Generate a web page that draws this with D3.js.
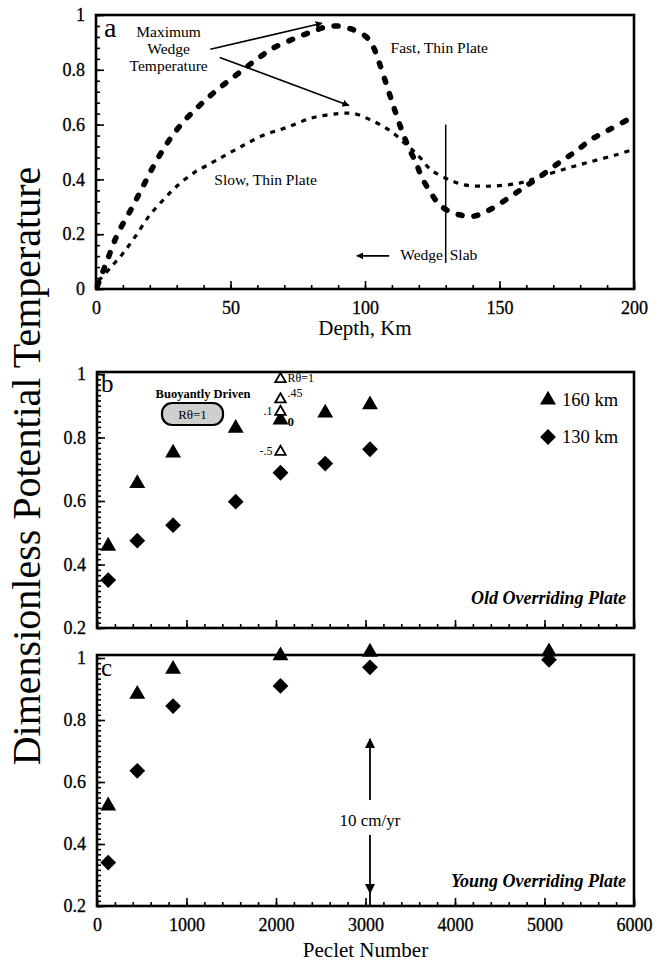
<!DOCTYPE html>
<html>
<head>
<meta charset="utf-8">
<script src="https://cdn.jsdelivr.net/npm/d3@7"></script>
<style>
  body { margin: 0; background: #fff; }
  text { font-family: "Liberation Serif", "Times New Roman", serif; fill: #000; }
</style>
</head>
<body>
<svg id="chart" width="662" height="963"></svg>
<script>
// ---- panel a: temperature profiles vs depth ----
const depthFast = [0.5, 4, 8, 13, 17.5, 22, 27, 32, 38, 43, 48, 54, 60, 66, 74, 80.5, 87.5, 94.5, 100.5, 103, 105.5, 108.5, 111, 114, 116.5, 119, 121, 124.5, 127.5, 131, 135.5, 140, 146.5, 153, 159, 165, 172, 178, 184, 190.5, 199];
const tempFast = [0.01, 0.1, 0.2, 0.29, 0.375, 0.46, 0.54, 0.605, 0.665, 0.71, 0.75, 0.795, 0.84, 0.88, 0.915, 0.94, 0.96, 0.95, 0.92, 0.885, 0.82, 0.73, 0.655, 0.57, 0.51, 0.46, 0.41, 0.35, 0.31, 0.285, 0.27, 0.265, 0.29, 0.33, 0.37, 0.41, 0.46, 0.5, 0.545, 0.58, 0.625];
const depthSlow = [1, 6, 10, 14.5, 20, 25.5, 30, 36.5, 43, 47.5, 54, 62, 71, 80.5, 90, 96, 102.5, 109, 115, 120, 124.5, 131, 137, 145, 153, 159, 165, 175, 184, 193.5, 200];
const tempSlow = [0.03, 0.085, 0.13, 0.19, 0.27, 0.33, 0.375, 0.425, 0.46, 0.485, 0.52, 0.56, 0.59, 0.625, 0.64, 0.64, 0.615, 0.58, 0.53, 0.485, 0.435, 0.4, 0.38, 0.375, 0.38, 0.39, 0.41, 0.44, 0.465, 0.49, 0.51];
const depthTicks = [0, 50, 100, 150, 200];
const tempTicksA = [0, 0.2, 0.4, 0.6, 0.8, 1];

// ---- panel b: old overriding plate ----
const pecletOld = [125, 450, 850, 1550, 2050, 2550, 3050];
const old160 = [0.455, 0.652, 0.748, 0.826, 0.852, 0.874, 0.9];
const old130 = [0.351, 0.475, 0.524, 0.598, 0.689, 0.718, 0.763];
// buoyancy runs at Pe = 2050 (open triangles)
const buoyPe = 2050;
const buoyLabel = ["R\u03B8=1", ".45", ".1", "-.5"];
const buoyTemp = [0.984, 0.92, 0.881, 0.755];
const buoyFilledLabel = "0";

// ---- panel c: young overriding plate ----
const pecletYoung = [125, 450, 850, 2050, 3050, 5050];
const young160 = [0.52, 0.88, 0.961, 1.004, 1.016, 1.017];
const young130 = [0.34, 0.636, 0.845, 0.91, 0.97, 0.994];
const pecletTicks = [0, 1000, 2000, 3000, 4000, 5000, 6000];
const tempTicksBC = [0.2, 0.4, 0.6, 0.8, 1];
const speedPe = 3050;

const svg = d3.select("#chart");
const fmt = d3.format("~g");

const xa = d3.scaleLinear().domain([0, 200]).range([96, 634]);
const ya = d3.scaleLinear().domain([0, 1]).range([289, 15]);
const xp = d3.scaleLinear().domain([0, 6000]).range([97, 634]);
const yb = d3.scaleLinear().domain([0.2, 1]).range([628, 374]);
const yc = d3.scaleLinear().domain([0.2, 1]).range([906, 658]);

// arrowheads
const defs = svg.append("defs");
defs.append("marker")
    .attr("id", "head")
    .attr("viewBox", "0 0 10 10")
    .attr("refX", 9).attr("refY", 5)
    .attr("markerWidth", 7).attr("markerHeight", 7)
    .attr("markerUnits", "userSpaceOnUse")
    .attr("orient", "auto")
    .append("path").attr("d", "M0,0 L10,5 L0,10 z").attr("fill", "#000");
defs.append("marker")
    .attr("id", "headBig")
    .attr("viewBox", "0 0 10 10")
    .attr("refX", 9).attr("refY", 5)
    .attr("markerWidth", 12).attr("markerHeight", 10)
    .attr("markerUnits", "userSpaceOnUse")
    .attr("orient", "auto")
    .append("path").attr("d", "M0,0 L10,5 L0,10 z").attr("fill", "#000");

function axisLeft(scale, majors, minors, x, labels) {
    const gMin = svg.append("g").attr("transform", "translate(" + x + ",0)")
        .call(d3.axisLeft(scale).tickValues(minors).tickSize(-4).tickFormat(""));
    const gMaj = svg.append("g").attr("transform", "translate(" + x + ",0)")
        .call(d3.axisLeft(scale).tickValues(majors).tickSize(-8).tickPadding(11)
            .tickFormat(labels ? fmt : ""));
    [gMin, gMaj].forEach(g => {
        g.select(".domain").remove();
        g.selectAll("line").attr("stroke", "#000").attr("stroke-width", 1.6);
        g.selectAll("text").attr("font-size", 18).attr("font-family", "Liberation Serif")
            .attr("stroke", "#000").attr("stroke-width", 0.3);
    });
}

function axisBottom(scale, majors, minors, y, labels) {
    const gMin = svg.append("g").attr("transform", "translate(0," + y + ")")
        .call(d3.axisBottom(scale).tickValues(minors).tickSize(-4).tickFormat(""));
    const gMaj = svg.append("g").attr("transform", "translate(0," + y + ")")
        .call(d3.axisBottom(scale).tickValues(majors).tickSize(-8).tickPadding(12)
            .tickFormat(labels ? fmt : ""));
    [gMin, gMaj].forEach(g => {
        g.select(".domain").remove();
        g.selectAll("line").attr("stroke", "#000").attr("stroke-width", 1.6);
        g.selectAll("text").attr("font-size", 18).attr("font-family", "Liberation Serif")
            .attr("stroke", "#000").attr("stroke-width", 0.3);
    });
}

function frame(x0, x1, y0, y1) {
    svg.append("rect")
        .attr("x", x0).attr("y", y0)
        .attr("width", x1 - x0).attr("height", y1 - y0)
        .attr("fill", "none").attr("stroke", "#000").attr("stroke-width", 2.6);
}

// ================= panel a =================
axisLeft(ya, tempTicksA, d3.range(0, 1.0001, 0.04), 96, true);
axisBottom(xa, depthTicks, d3.range(0, 200.01, 10), 289, true);
frame(96, 634, 15, 289);

const lineA = d3.line().curve(d3.curveCatmullRom.alpha(0.5));

svg.append("path")
    .attr("d", lineA(depthSlow.map((d, i) => [xa(d), ya(tempSlow[i])])))
    .attr("fill", "none").attr("stroke", "#000")
    .attr("stroke-width", 3.2).attr("stroke-dasharray", "5 6");

svg.append("path")
    .attr("d", lineA(depthFast.map((d, i) => [xa(d), ya(tempFast[i])])))
    .attr("fill", "none").attr("stroke", "#000")
    .attr("stroke-width", 5.5).attr("stroke-linecap", "round")
    .attr("stroke-dasharray", "4 12");

// wedge / slab boundary
svg.append("line")
    .attr("x1", xa(130)).attr("x2", xa(130))
    .attr("y1", ya(0.6)).attr("y2", ya(0.095))
    .attr("stroke", "#000").attr("stroke-width", 1.5);

svg.append("text").attr("x", xa(129)).attr("y", ya(0.105))
    .attr("text-anchor", "end").attr("font-size", 15.5).text("Wedge");
svg.append("text").attr("x", xa(131.5)).attr("y", ya(0.105))
    .attr("font-size", 15.5).text("Slab");
svg.append("line")
    .attr("x1", xa(109)).attr("x2", xa(97))
    .attr("y1", ya(0.121)).attr("y2", ya(0.121))
    .attr("stroke", "#000").attr("stroke-width", 1.8)
    .attr("marker-end", "url(#head)");

// labels
const maxLines = ["Maximum", "Wedge", "Temperature"];
const maxY = [0.92, 0.857, 0.794];
maxLines.forEach((t, i) => {
    svg.append("text").attr("x", xa(27)).attr("y", ya(maxY[i]))
        .attr("text-anchor", "middle").attr("font-size", 15.5).text(t);
});
svg.append("line")
    .attr("x1", xa(42.5)).attr("y1", ya(0.875))
    .attr("x2", xa(84)).attr("y2", ya(0.97))
    .attr("stroke", "#000").attr("stroke-width", 1.6)
    .attr("marker-end", "url(#head)");
svg.append("line")
    .attr("x1", xa(46)).attr("y1", ya(0.845))
    .attr("x2", xa(94)).attr("y2", ya(0.67))
    .attr("stroke", "#000").attr("stroke-width", 1.6)
    .attr("marker-end", "url(#head)");

svg.append("text").attr("x", xa(109.5)).attr("y", ya(0.862))
    .attr("font-size", 15.5).text("Fast, Thin Plate");
svg.append("text").attr("x", xa(44)).attr("y", ya(0.378))
    .attr("font-size", 15.5).text("Slow, Thin Plate");
svg.append("text").attr("x", 104).attr("y", 37)
    .attr("font-size", 28).text("a");

svg.append("text").attr("x", (xa(0) + xa(200)) / 2).attr("y", 335)
    .attr("text-anchor", "middle").attr("font-size", 21).text("Depth, Km");

// ================= panels b and c =================
const tri = d3.symbol().type(d3.symbolTriangle).size(110);
const triSmall = d3.symbol().type(d3.symbolTriangle).size(48);
const dia = d3.symbol().type(d3.symbolSquare).size(125);

function markers(ys, pe, v160, v130) {
    svg.append("g").selectAll("path.t")
        .data(pe).join("path")
        .attr("d", tri)
        .attr("transform", (d, i) => "translate(" + xp(d) + "," + (ys(v160[i]) - 1) + ")")
        .attr("fill", "#000");
    svg.append("g").selectAll("path.d")
        .data(pe).join("path")
        .attr("d", dia)
        .attr("transform", (d, i) => "translate(" + xp(d) + "," + ys(v130[i]) + ") rotate(45)")
        .attr("fill", "#000");
}

// panel b
axisLeft(yb, tempTicksBC, d3.range(0.2, 1.0001, 0.2 / 12), 97, true);
axisBottom(xp, pecletTicks, d3.range(0, 6001, 200), 628, false);
frame(97, 634, 372, 628);
markers(yb, pecletOld, old160, old130);

// buoyancy sensitivity (open triangles)
svg.append("g").selectAll("path")
    .data(buoyTemp).join("path")
    .attr("d", triSmall)
    .attr("transform", d => "translate(" + xp(buoyPe) + "," + yb(d) + ")")
    .attr("fill", "#fff").attr("stroke", "#000").attr("stroke-width", 1.8);
const buoyAnchor = ["start", "start", "end", "end"];
const buoyDx = [7, 7, -8, -8];
buoyTemp.forEach((v, i) => {
    svg.append("text").attr("x", xp(buoyPe) + buoyDx[i]).attr("y", yb(v) + (i === 1 ? -2 : 3))
        .attr("text-anchor", buoyAnchor[i]).attr("font-size", 12).text(buoyLabel[i]);
});
svg.append("text").attr("x", xp(buoyPe) + 7).attr("y", yb(old160[4]) + 5)
    .attr("font-size", 13).attr("font-weight", "bold").text(buoyFilledLabel);

svg.append("text").attr("x", 203).attr("y", 398)
    .attr("text-anchor", "middle").attr("font-size", 12.5).attr("font-weight", "bold")
    .text("Buoyantly Driven");
svg.append("rect").attr("x", 162).attr("y", 403).attr("width", 61).attr("height", 22)
    .attr("rx", 10).attr("fill", "#cfcfcf").attr("stroke", "#000").attr("stroke-width", 2.2);
svg.append("text").attr("x", 192.5).attr("y", 419)
    .attr("text-anchor", "middle").attr("font-size", 13).text("R\u03B8=1");

// legend
svg.append("path").attr("d", tri).attr("transform", "translate(548,400)").attr("fill", "#000");
svg.append("text").attr("x", 562).attr("y", 406).attr("font-size", 18.5).text("160 km");
svg.append("path").attr("d", dia).attr("transform", "translate(548,437) rotate(45)").attr("fill", "#000");
svg.append("text").attr("x", 562).attr("y", 443).attr("font-size", 18.5).text("130 km");

svg.append("text").attr("x", 626).attr("y", 604)
    .attr("text-anchor", "end").attr("font-size", 18)
    .attr("font-style", "italic").attr("font-weight", "bold").text("Old Overriding Plate");
svg.append("text").attr("x", 101).attr("y", 392).attr("font-size", 25).text("b");

// panel c
axisLeft(yc, tempTicksBC, d3.range(0.2, 1.0001, 0.2 / 12), 97, true);
axisBottom(xp, pecletTicks, d3.range(0, 6001, 200), 906, true);
frame(97, 634, 655, 906);

// 10 cm/yr marker
svg.append("line")
    .attr("x1", xp(speedPe)).attr("x2", xp(speedPe))
    .attr("y1", 800).attr("y2", 739)
    .attr("stroke", "#000").attr("stroke-width", 1.8)
    .attr("marker-end", "url(#headBig)");
svg.append("line")
    .attr("x1", xp(speedPe)).attr("x2", xp(speedPe))
    .attr("y1", 835).attr("y2", 893)
    .attr("stroke", "#000").attr("stroke-width", 1.8)
    .attr("marker-end", "url(#headBig)");
svg.append("line")
    .attr("x1", xp(speedPe)).attr("x2", xp(speedPe))
    .attr("y1", 890).attr("y2", 906)
    .attr("stroke", "#000").attr("stroke-width", 1.8);
svg.append("text").attr("x", xp(speedPe)).attr("y", 826)
    .attr("text-anchor", "middle").attr("font-size", 17).text("10 cm/yr");

markers(yc, pecletYoung, young160, young130);

svg.append("text").attr("x", 626).attr("y", 887)
    .attr("text-anchor", "end").attr("font-size", 18)
    .attr("font-style", "italic").attr("font-weight", "bold").text("Young Overriding Plate");
svg.append("text").attr("x", 101).attr("y", 676).attr("font-size", 25).text("c");

svg.append("text").attr("x", (xp(0) + xp(6000)) / 2).attr("y", 957)
    .attr("text-anchor", "middle").attr("font-size", 21).text("Peclet Number");

// shared y title
svg.append("text")
    .attr("transform", "translate(40,466) rotate(-90)")
    .attr("text-anchor", "middle").attr("font-size", 40)
    .text("Dimensionless Potential Temperature");
</script>
</body>
</html>
